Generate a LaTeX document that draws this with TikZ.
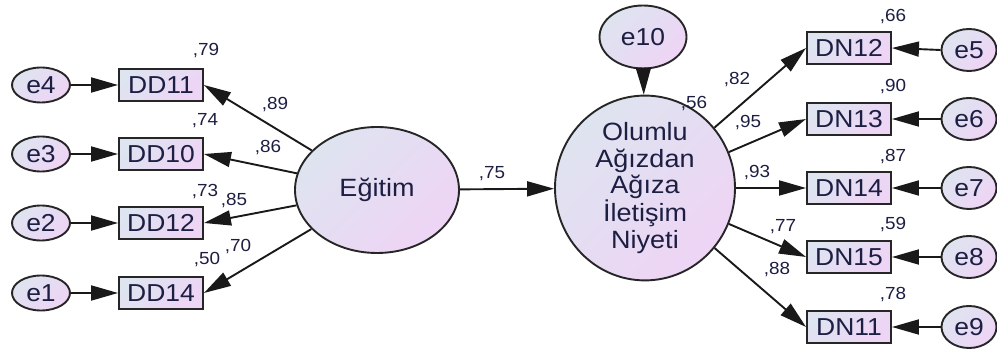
\documentclass[tikz,border=0pt]{standalone}
\usepackage{fontspec}
\setmainfont{Liberation Sans}[FakeStretch=1.08]
\usetikzlibrary{arrows.meta,shapes.geometric}
\definecolor{fillA}{RGB}{222,228,240}
\definecolor{fillB}{RGB}{238,212,245}
\definecolor{ink}{RGB}{28,30,66}
\begin{document}
\begin{tikzpicture}[x=1pt,y=-1pt,
  shaded/.style={draw=black!85, line width=1.9pt, top color=fillA, bottom color=fillB,
    shading angle=45, text=ink, inner sep=0pt},
  obs/.style={shaded, rectangle, minimum width=84pt, minimum height=32pt,
    font=\fontsize{24.5}{26}\selectfont},
  errL/.style={shaded, ellipse, minimum width=58pt, minimum height=35pt,
    font=\fontsize{24.5}{26}\selectfont},
  errR/.style={shaded, ellipse, minimum width=55pt, minimum height=42pt,
    font=\fontsize{24.5}{26}\selectfont},
  latent/.style={shaded, ellipse, align=center, font=\fontsize{25}{26.5}\selectfont},
  conn/.style={line width=1.9pt, draw=black!90, -{Triangle[length=27pt,width=15pt]}},
  lab/.style={font=\fontsize{17.5}{17.5}\selectfont, text=ink, inner sep=0pt}]
  \useasboundingbox (0,0) rectangle (997,352);

  % latent variables
  \node[latent, minimum width=164pt, minimum height=126pt] (eg) at (377,190) {Eğitim};
  \node[latent, minimum width=180pt, minimum height=140pt] (on) at (645,188)
    {Olumlu\\Ağızdan\\Ağıza\\İletişim\\Niyeti};
  \node[latent, minimum width=87pt, minimum height=63pt, font=\fontsize{24.5}{26}\selectfont]
    (e10) at (643,37) {e10};

  % left indicators and their errors
  \node[obs] (dd11) at (161,85) {DD11};
  \node[obs] (dd10) at (161,154) {DD10};
  \node[obs] (dd12) at (161,223) {DD12};
  \node[obs] (dd14) at (161,293) {DD14};
  \node[errL] (e4) at (41,85) {e4};
  \node[errL] (e3) at (41,154) {e3};
  \node[errL] (e2) at (41,223) {e2};
  \node[errL] (e1) at (41,293) {e1};

  % right indicators and their errors
  \node[obs] (dn12) at (849,48) {DN12};
  \node[obs] (dn13) at (849,119) {DN13};
  \node[obs] (dn14) at (849,188) {DN14};
  \node[obs] (dn15) at (849,257) {DN15};
  \node[obs] (dn11) at (849,327) {DN11};
  \node[errR] (e5) at (969,50) {e5};
  \node[errR] (e6) at (969,119) {e6};
  \node[errR] (e7) at (969,188) {e7};
  \node[errR] (e8) at (969,257) {e8};
  \node[errR] (e9) at (969,327) {e9};

  % paths
  \foreach \e/\d in {e4/dd11,e3/dd10,e2/dd12,e1/dd14}
    \draw[conn] (\e.east) -- (\d.west);
  \foreach \d in {dd11,dd10,dd12,dd14}
    \draw[conn] (eg) -- (\d.east);
  \foreach \e/\d in {e5/dn12,e6/dn13,e7/dn14,e8/dn15,e9/dn11}
    \draw[conn] (\e.west) -- (\d.east);
  \foreach \d in {dn12,dn13,dn14,dn15,dn11}
    \draw[conn] (on) -- (\d.west);
  \draw[conn] (eg) -- (on);
  \draw[conn] (e10) -- (on);

  % coefficients
  \node[lab] (r79) at (206,51) {,79};
  \node[lab] (l89) at (275,105) {,89};
  \node[lab] (r74) at (205,121) {,74};
  \node[lab] (l86) at (268,148) {,86};
  \node[lab] (r73) at (205,192) {,73};
  \node[lab] (l85) at (234,201) {,85};
  \node[lab] (r50) at (207,260) {,50};
  \node[lab] (l70) at (238,247) {,70};
  \node[lab] (l75) at (492,174) {,75};
  \node[lab] (r56) at (694,104) {,56};
  \node[lab] (l82) at (737,80) {,82};
  \node[lab] (l95) at (748,123) {,95};
  \node[lab] (l93) at (757,173) {,93};
  \node[lab] (l77) at (783,227) {,77};
  \node[lab] (l88) at (777,270) {,88};
  \node[lab] (r66) at (893,17) {,66};
  \node[lab] (r90) at (893,87) {,90};
  \node[lab] (r87) at (893,157) {,87};
  \node[lab] (r59) at (893,225) {,59};
  \node[lab] (r78) at (893,295) {,78};
\end{tikzpicture}
\end{document}
